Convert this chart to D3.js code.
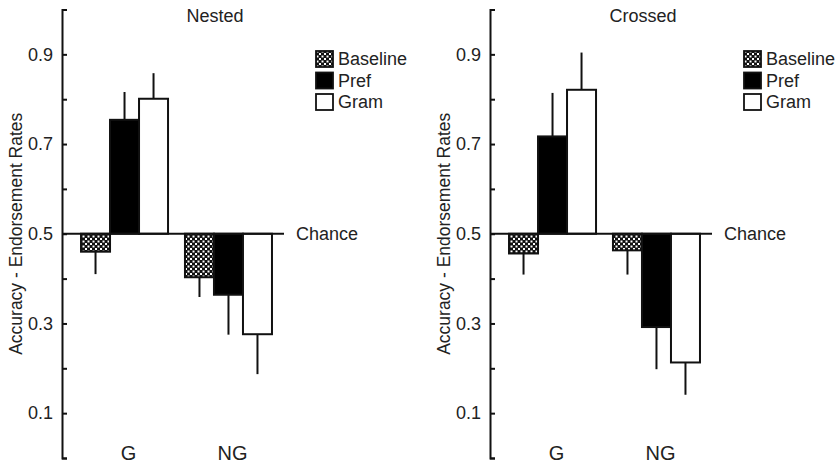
<!DOCTYPE html>
<html>
<head>
<meta charset="utf-8">
<script src="https://cdn.jsdelivr.net/npm/d3@7"></script>
<style>
  body { margin: 0; background: #fff; }
  text { font-family: "Liberation Sans", Arial, sans-serif; fill: #222; }
</style>
</head>
<body>
<div id="chart"></div>
<script>
var width = 838, height = 465;

// data
var groups = ["G", "NG"];
var conditions = ["Baseline", "Pref", "Gram"];
var panelTitles = ["Nested", "Crossed"];
var chance = 0.5;
var yTicks = [0, 0.1, 0.2, 0.3, 0.4, 0.5, 0.6, 0.7, 0.8, 0.9, 1];
var yTickLabels = [0.1, 0.3, 0.5, 0.7, 0.9];

// means per panel, [G: Baseline, Pref, Gram], [NG: Baseline, Pref, Gram]
var nestedMeans = [[0.46, 0.754, 0.801], [0.403, 0.364, 0.276]];
var nestedErr   = [[0.41, 0.816, 0.858], [0.359, 0.275, 0.187]];
var crossedMeans = [[0.456, 0.717, 0.821], [0.463, 0.292, 0.213]];
var crossedErr   = [[0.409, 0.814, 0.904], [0.409, 0.198, 0.141]];

var panels = [
  { title: panelTitles[0], means: nestedMeans, err: nestedErr, axisX: 62 },
  { title: panelTitles[1], means: crossedMeans, err: crossedErr, axisX: 490 }
];

var svg = d3.select("#chart")
  .append("svg")
  .attr("width", width)
  .attr("height", height);

// checker pattern for Baseline
var defs = svg.append("defs");
var pat = defs.append("pattern")
  .attr("id", "checker")
  .attr("patternUnits", "userSpaceOnUse")
  .attr("width", 5)
  .attr("height", 5);
pat.append("rect").attr("width", 5).attr("height", 5).attr("fill", "#111");
pat.append("rect").attr("x", 0.5).attr("y", 0.5).attr("width", 2).attr("height", 2).attr("fill", "#fff");
pat.append("rect").attr("x", 3).attr("y", 3).attr("width", 2).attr("height", 2).attr("fill", "#fff");

var fills = { Baseline: "url(#checker)", Pref: "#000", Gram: "#fff" };

var yScale = d3.scaleLinear()
  .domain([0, 1])
  .range([458, 9.5]);

panels.forEach(function(p) {
  var g = svg.append("g")
    .attr("transform", `translate(${p.axisX},0)`);

  var xScale = d3.scaleBand()
    .domain(groups)
    .range([0, 229])
    .paddingInner(0.163)
    .paddingOuter(0.183);

  var xSub = d3.scaleBand()
    .domain(conditions)
    .range([0, xScale.bandwidth()]);

  // Y axis, ticks pointing inward
  var yAxis = d3.axisLeft(yScale)
    .tickValues(yTicks)
    .tickSize(-5)
    .tickSizeOuter(-5)
    .tickPadding(9)
    .tickFormat(function(d) {
      return yTickLabels.some(function(v) { return Math.abs(v - d) < 1e-9; }) ? d3.format(".1f")(d) : "";
    });

  var ax = g.append("g")
    .attr("class", "y-axis")
    .call(yAxis);
  ax.selectAll("path, line")
    .attr("stroke", "#111")
    .attr("stroke-width", 2);
  ax.selectAll("text")
    .style("font-size", "18px")
    .style("font-family", "'Liberation Sans', Arial, sans-serif")
    .attr("fill", "#222");

  // y label
  g.append("text")
    .attr("transform", `translate(-46,${yScale(chance)}) rotate(-90)`)
    .attr("text-anchor", "middle")
    .attr("dominant-baseline", "central")
    .style("font-size", "17.5px")
    .text("Accuracy - Endorsement Rates");

  // title
  g.append("text")
    .attr("x", 153)
    .attr("y", 22)
    .attr("text-anchor", "middle")
    .style("font-size", "18px")
    .text(p.title);

  // bars
  groups.forEach(function(grp, gi) {
    conditions.forEach(function(c, ci) {
      var v = p.means[gi][ci];
      var x0 = xScale(grp) + xSub(c);
      var bw = xSub.bandwidth();
      var xc = x0 + bw / 2;

      // error bar
      g.append("line")
        .attr("x1", xc).attr("x2", xc)
        .attr("y1", yScale(v))
        .attr("y2", yScale(p.err[gi][ci]))
        .attr("stroke", "#111")
        .attr("stroke-width", 2);

      g.append("rect")
        .attr("x", x0)
        .attr("y", yScale(Math.max(v, chance)))
        .attr("width", bw)
        .attr("height", Math.abs(yScale(v) - yScale(chance)))
        .attr("fill", fills[c])
        .attr("stroke", "#111")
        .attr("stroke-width", 2);
    });

    g.append("text")
      .attr("x", xScale(grp) + xScale.bandwidth() / 2 + 4)
      .attr("y", 460)
      .attr("text-anchor", "middle")
      .style("font-size", "20px")
      .text(grp);
  });

  // chance line
  g.append("line")
    .attr("x1", 0).attr("x2", 222)
    .attr("y1", yScale(chance)).attr("y2", yScale(chance))
    .attr("stroke", "#111")
    .attr("stroke-width", 2);

  g.append("text")
    .attr("x", 234)
    .attr("y", yScale(chance))
    .attr("dominant-baseline", "central")
    .style("font-size", "18px")
    .text("Chance");

  // legend
  var legend = g.append("g")
    .attr("transform", "translate(254,0)");
  conditions.forEach(function(c, i) {
    var cy = 59 + i * 21.5;
    legend.append("rect")
      .attr("x", 0)
      .attr("y", cy - 8)
      .attr("width", 17)
      .attr("height", 16)
      .attr("fill", fills[c])
      .attr("stroke", "#111")
      .attr("stroke-width", 1.8);
    legend.append("text")
      .attr("x", 22)
      .attr("y", cy)
      .attr("dominant-baseline", "central")
      .style("font-size", "18px")
      .text(c);
  });
});
</script>
</body>
</html>
